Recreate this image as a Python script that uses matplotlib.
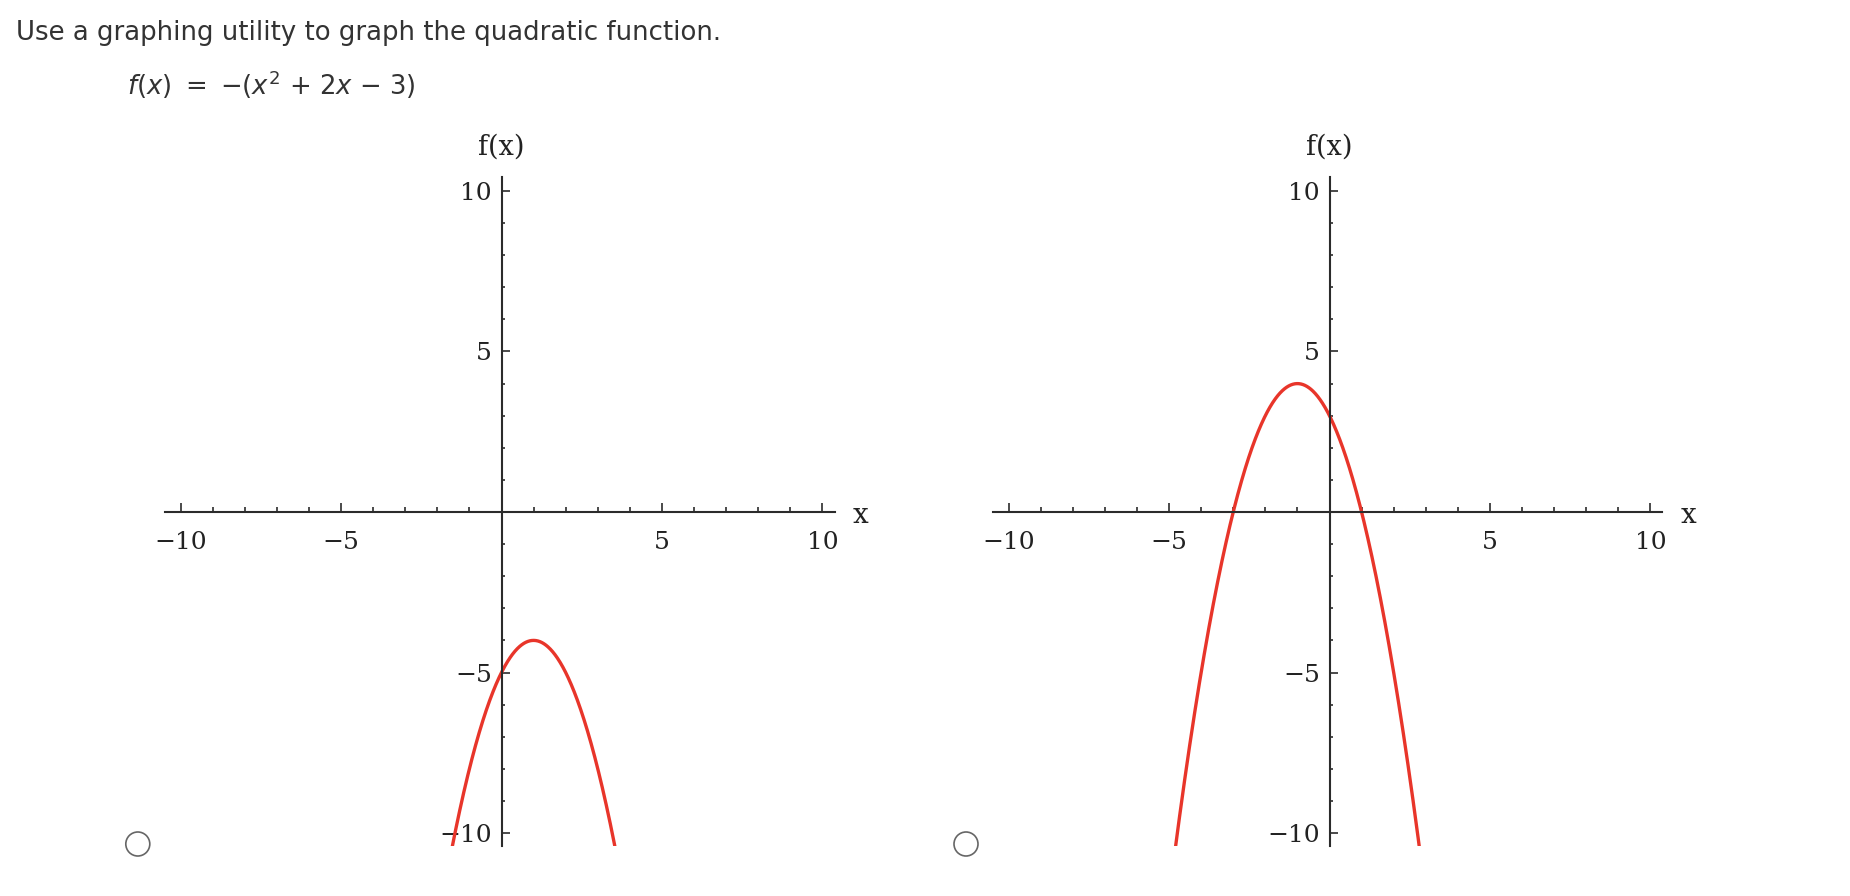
import numpy as np
import matplotlib
matplotlib.use("Agg")
import matplotlib.pyplot as plt
from matplotlib.patches import Ellipse

# Quadratic coefficients (a, b, c) for each answer choice: f(x) = a*x^2 + b*x + c
choice_left = (-1.0, 2.0, -5.0)
choice_right = (-1.0, -2.0, 3.0)

major_ticks = [-10, -5, 5, 10]
minor_ticks = [-9, -8, -7, -6, -4, -3, -2, -1, 1, 2, 3, 4, 6, 7, 8, 9]
tick_labels = ["\u221210", "\u22125", "5", "10"]

title_text = "Use a graphing utility to graph the quadratic function."
formula_text = r"$f(x)\ {=}\ {-}(x^2\ {+}\ 2x\ {-}\ 3)$"

W, H = 1850, 896
DPI = 100
fig = plt.figure(figsize=(W / DPI, H / DPI), dpi=DPI)
fig.patch.set_facecolor("white")

plt.rcParams["mathtext.fontset"] = "dejavusans"

TEXT = "#333333"
AXIS = "#2b2b2b"
RED = "#e8352a"
SERIF = "DejaVu Serif"

fig.text(16 / W, 1 - 40 / H, title_text, fontsize=18.75, color=TEXT,
         family="DejaVu Sans", va="baseline", ha="left")
fig.text(127 / W, 1 - 95 / H, formula_text, fontsize=18.6, color=TEXT,
         va="baseline", ha="left")

PX = 32.09  # pixels per unit along x
PY = 32.1   # pixels per unit along y


def make_axes(x0_px, y0_px, xlim, ylim):
    left = x0_px + xlim[0] * PX
    right = x0_px + xlim[1] * PX
    top = y0_px - ylim[1] * PY
    bottom = y0_px - ylim[0] * PY
    ax = fig.add_axes([left / W, 1 - bottom / H, (right - left) / W, (bottom - top) / H])
    ax.set_xlim(*xlim)
    ax.set_ylim(*ylim)
    ax.patch.set_visible(False)
    for s in ("top", "right"):
        ax.spines[s].set_visible(False)
    for s in ("left", "bottom"):
        ax.spines[s].set_position("zero")
        ax.spines[s].set_color(AXIS)
        ax.spines[s].set_linewidth(1.5)
    ax.set_xticks(major_ticks)
    ax.set_xticklabels(tick_labels)
    ax.set_yticks(major_ticks)
    ax.set_yticklabels(tick_labels)
    ax.set_xticks(minor_ticks, minor=True)
    ax.set_yticks(minor_ticks, minor=True)
    ax.tick_params(axis="x", which="major", direction="in", length=6.5, width=1.2,
                   color=AXIS, pad=13.5, labelsize=18, labelcolor="#222222")
    ax.tick_params(axis="x", which="minor", direction="in", length=3.6, width=1.2, color=AXIS)
    ax.tick_params(axis="y", which="major", direction="in", length=5.5, width=1.2,
                   color=AXIS, pad=7, labelsize=18, labelcolor="#222222")
    ax.tick_params(axis="y", which="minor", direction="in", length=2.2, width=1.2, color=AXIS)
    for lab in ax.get_xticklabels() + ax.get_yticklabels():
        lab.set_family(SERIF)
    ax.text(0, 11.37, "f(x)", family=SERIF, fontsize=19.5, color="#222222",
            ha="center", va="center", clip_on=False)
    ax.text(11.18, -0.11, "x", family=SERIF, fontsize=20, color="#222222",
            ha="center", va="center", clip_on=False)
    return ax


def draw_parabola(ax, coeffs):
    a, b, c = coeffs
    xs = np.linspace(-10.5, 10.5, 2001)
    ys = a * xs ** 2 + b * xs + c
    ax.plot(xs, ys, color=RED, lw=2.4, solid_capstyle="butt")


ax1 = make_axes(501.5, 512.0, (-10.5, 10.4), (-10.4, 10.45))
draw_parabola(ax1, choice_left)

ax2 = make_axes(1329.5, 512.0, (-10.48, 10.37), (-10.4, 10.45))
draw_parabola(ax2, choice_right)

# Radio buttons next to each choice
for cx in (137.8, 966.0):
    fig.patches.append(Ellipse((cx / W, 1 - 844 / H), 24 / W, 24 / H,
                               transform=fig.transFigure, fill=False,
                               edgecolor="#666666", lw=1.2))

fig.savefig("out.png", dpi=DPI, facecolor="white")
